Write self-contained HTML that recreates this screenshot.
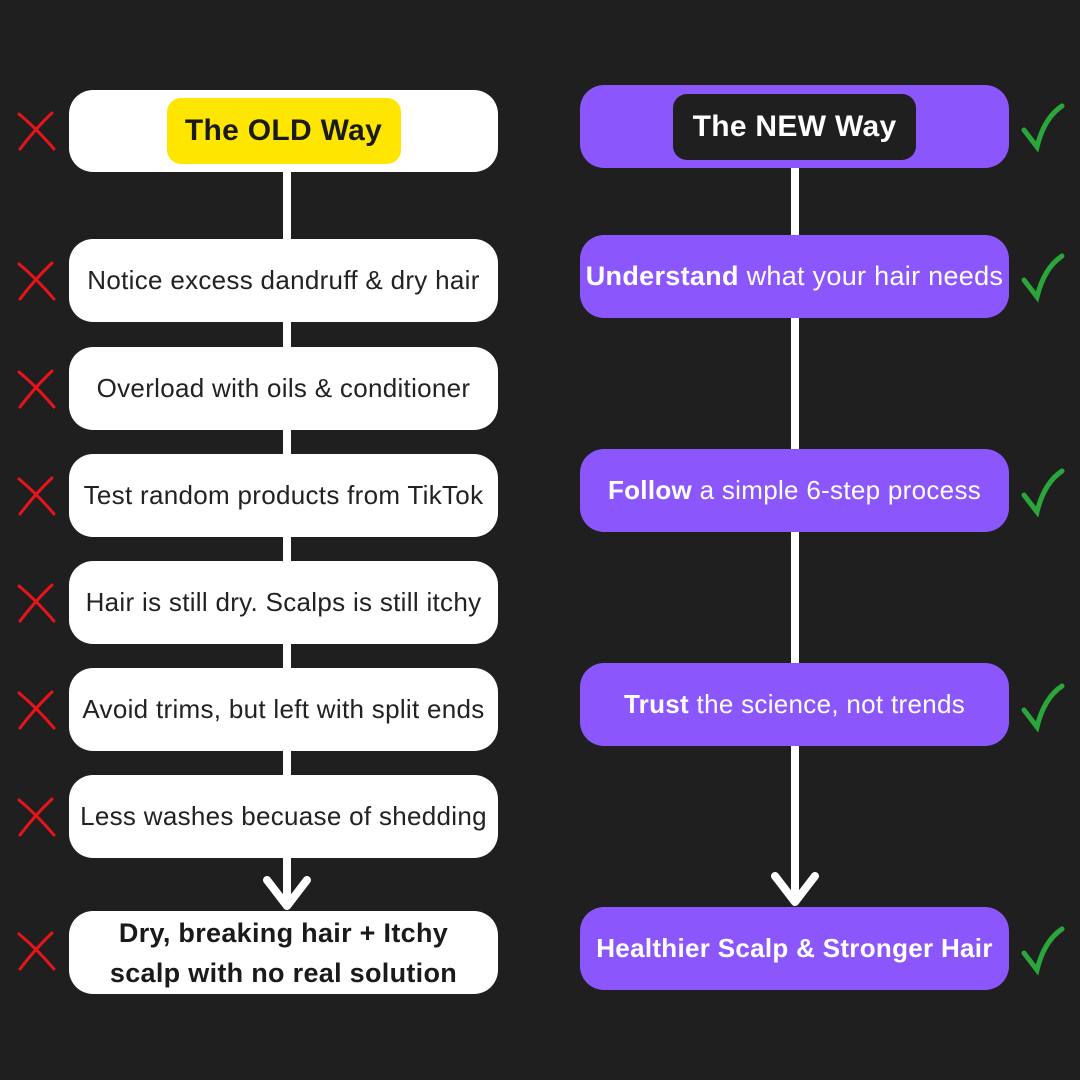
<!DOCTYPE html>
<html><head><style>
body{margin:0;width:1080px;height:1080px;background:#1f1f1f;position:relative;overflow:hidden;font-family:"Liberation Sans",sans-serif}
.b{position:absolute;border-radius:24px;display:flex;align-items:center;justify-content:center;text-align:center;font-size:26px;white-space:nowrap;letter-spacing:0.3px}
.l{left:69px;width:429px;background:#fff;color:#222}
.r{left:580px;width:429px;background:#8b57fd;color:#fff}
.ln{position:absolute;width:8px;background:#fff}
b{font-weight:bold}
</style></head><body>
<div class="ln" style="left:283px;top:170px;height:730px"></div>
<div class="ln" style="left:791px;top:165px;height:730px"></div>
<svg style="position:absolute;left:0;top:0" width="1080" height="1080">
<polyline points="267,880 287,906 307,880" fill="none" stroke="#fff" stroke-width="8" stroke-linecap="round" stroke-linejoin="round"/>
<polyline points="775,876 795,902 815,876" fill="none" stroke="#fff" stroke-width="8" stroke-linecap="round" stroke-linejoin="round"/>
<g stroke="#e8141c" stroke-width="3" fill="none" stroke-linecap="round">
<g id="x"><path d="M19,114 Q36,128 54,149"/><path d="M52,113 Q36,128 20,149"/></g>
<use href="#x" y="150"/><use href="#x" y="258"/><use href="#x" y="365"/><use href="#x" y="472"/><use href="#x" y="579"/><use href="#x" y="686"/><use href="#x" y="820"/>
</g>
<g stroke="#2aa63a" stroke-width="5" fill="none" stroke-linecap="round">
<g id="c"><path d="M1024,130 L1037,147 Q1044,118 1062,106"/></g>
<use href="#c" y="150"/><use href="#c" y="365"/><use href="#c" y="580"/><use href="#c" y="823"/>
</g>
</svg>
<div class="b l" style="top:90px;height:82px"><div style="background:#ffe600;border-radius:14px;height:66px;width:234px;display:flex;align-items:center;justify-content:center;font-weight:bold;font-size:30px;color:#1a1a1a">The OLD Way</div></div>
<div class="b l" style="top:239px;height:83px">Notice excess dandruff &amp; dry hair</div>
<div class="b l" style="top:347px;height:83px">Overload with oils &amp; conditioner</div>
<div class="b l" style="top:454px;height:83px">Test random products from TikTok</div>
<div class="b l" style="top:561px;height:83px">Hair is still dry. Scalps is still itchy</div>
<div class="b l" style="top:668px;height:83px">Avoid trims, but left with split ends</div>
<div class="b l" style="top:775px;height:83px">Less washes becuase of shedding</div>
<div class="b l" style="top:911px;height:83px;font-weight:bold;font-size:27px;line-height:40px;white-space:normal;color:#1a1a1a">Dry, breaking hair + Itchy<br>scalp with no real solution</div>
<div class="b r" style="top:85px;height:83px"><div style="background:#1f1f1f;border-radius:14px;height:66px;width:243px;display:flex;align-items:center;justify-content:center;font-weight:bold;font-size:30px">The NEW Way</div></div>
<div class="b r" style="top:235px;height:83px;font-size:27px"><b>Understand</b>&nbsp;what your hair needs</div>
<div class="b r" style="top:449px;height:83px"><b>Follow</b>&nbsp;a simple 6-step process</div>
<div class="b r" style="top:663px;height:83px"><b>Trust</b>&nbsp;the science, not trends</div>
<div class="b r" style="top:907px;height:83px;font-weight:bold;font-size:26px">Healthier Scalp &amp; Stronger Hair</div>
</body></html>
